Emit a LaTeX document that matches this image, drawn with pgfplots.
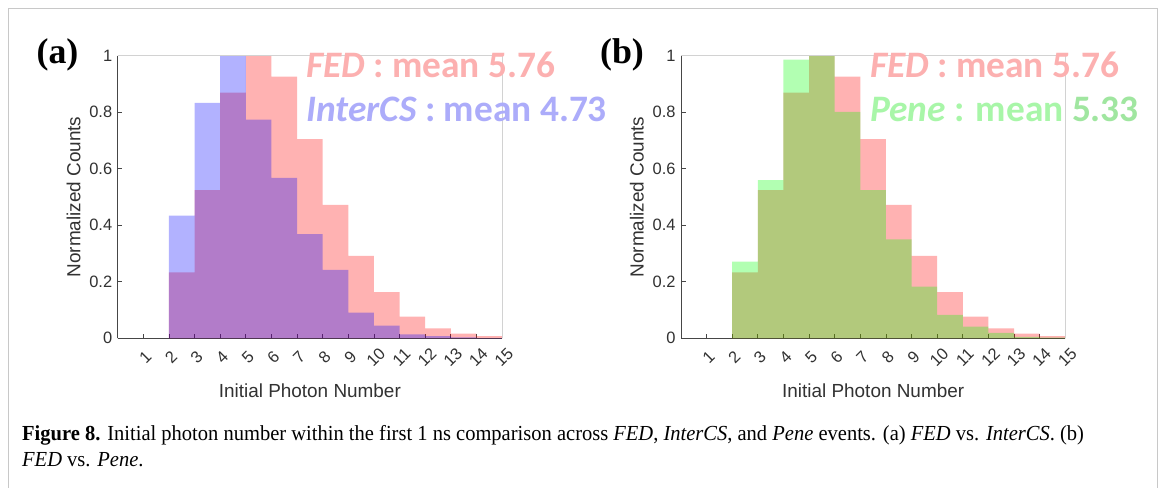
\documentclass[border=0pt]{standalone}
\usepackage{fontspec}
\setmainfont{Liberation Sans}
\newfontfamily\capserif{Liberation Serif}
\newfontfamily\calib{Carlito}
\usepackage{graphicx}
\usepackage{pgfplots}
\usepackage{pgfplotstable}
\pgfplotsset{compat=1.18}

\definecolor{axisdark}{RGB}{70,70,70}
\definecolor{axislight}{RGB}{210,210,210}
\definecolor{textgray}{RGB}{50,50,50}
\definecolor{framegray}{RGB}{200,200,200}
\definecolor{fedtxt}{RGB}{252,176,176}
\definecolor{intertxt}{RGB}{172,172,250}
\definecolor{penetxt}{RGB}{168,246,168}
\definecolor{penetxtdark}{RGB}{160,230,160}

% Normalized histograms: bin left edge, height (last row closes the last bin)
\pgfplotstableread{
x   y
2   0.233
3   0.524
4   0.869
5   1.000
6   0.926
7   0.705
8   0.472
9   0.292
10  0.163
11  0.077
12  0.035
13  0.0165
14  0.008
15  0.008
}\fedtab

\pgfplotstableread{
x   y
2   0.434
3   0.833
4   1.000
5   0.774
6   0.568
7   0.369
8   0.242
9   0.091
10  0.045
11  0.014
12  0.008
13  0.003
14  0.001
15  0.001
}\intertab

\pgfplotstableread{
x   y
2   0.271
3   0.560
4   0.986
5   1.000
6   0.801
7   0.524
8   0.350
9   0.183
10  0.083
11  0.041
12  0.019
13  0.005
14  0.002
15  0.002
}\penetab

\pgfplotsset{
  histax/.style={
    scale only axis,
    width=384.3bp, height=282.6bp,
    xmin=0, xmax=15, ymin=0, ymax=1,
    axis x line*=bottom, axis y line*=left,
    axis line style={draw=axisdark, line width=0.9bp, -},
    every tick/.style={draw=axisdark, line width=0.8bp},
    tick align=inside,
    major tick length=4.5bp,
    xtick={1,...,15},
    ytick={0,0.2,0.4,0.6,0.8,1},
    /pgf/number format/assume math mode=true,
    tick label style={font=\fontsize{16.5}{16.5}\selectfont, text=textgray},
    xticklabel style={yshift=-19bp, xshift=2bp, rotate=45, anchor=center},
    yticklabel style={xshift=-2bp},
    label style={font=\fontsize{19}{19}\selectfont, text=textgray},
    xlabel={Initial Photon Number},
    ylabel={Normalized Counts},
    xlabel style={at={(axis description cs:0.5,-0.184)}, anchor=center},
    ylabel style={at={(axis description cs:-0.115,0.5)}, anchor=center},
    clip=false,
  },
  histfill/.style={const plot, draw=none, fill=#1, fill opacity=0.3},
}

\begin{document}
\begin{tikzpicture}
\useasboundingbox (0,0) rectangle (1166bp,-488bp);
\fill[white] (0,0) rectangle (1166bp,-488bp);
% outer frame
\draw[framegray, line width=1.5bp] (8.5bp,-500bp) -- (8.5bp,-8.5bp) -- (1157.5bp,-8.5bp) -- (1157.5bp,-500bp);

% panel (a)
\begin{axis}[histax, at={(117.7bp,-338.3bp)}, anchor=south west]
  \addplot[histfill=red] table {\fedtab} \closedcycle;
  \addplot[histfill=blue] table {\intertab} \closedcycle;
  \draw[axislight, line width=0.9bp] (rel axis cs:0,1) -- (rel axis cs:1,1) -- (rel axis cs:1,0);
\end{axis}

% panel (b)
\begin{axis}[histax, at={(681bp,-338.3bp)}, anchor=south west]
  \addplot[histfill=red] table {\fedtab} \closedcycle;
  \addplot[histfill=green] table {\penetab} \closedcycle;
  \draw[axislight, line width=0.9bp] (rel axis cs:0,1) -- (rel axis cs:1,1) -- (rel axis cs:1,0);
\end{axis}

% panel tags
\node[font=\capserif\bfseries\fontsize{36}{36}\selectfont, anchor=center] at (57.5bp,-55bp) {(a)};
\node[font=\capserif\bfseries\fontsize{36}{36}\selectfont, anchor=center] at (622bp,-55bp) {(b)};

% mean annotations
\begin{scope}[every node/.style={anchor=base west, inner sep=0pt, font=\calib\bfseries\fontsize{37.5}{37.5}\selectfont}]
  \node[text=fedtxt] at (306bp,-77bp) {\textit{FED} : mean 5.76};
  \node[text=intertxt] at (306bp,-121bp) {\textit{InterCS} : mean 4.73};
  \node[text=fedtxt] at (870bp,-77bp) {\textit{FED} : mean 5.76};
  \node[text=penetxt] at (870bp,-121bp) {\textit{Pene} : mean \textcolor{penetxtdark}{5.33}};
\end{scope}

% caption
\begin{scope}[every node/.style={anchor=base west, inner sep=0pt, font=\capserif\fontsize{21.5}{21.5}\selectfont, text=black}]
  \node at (22bp,-440bp) {\scalebox{0.958}[1]{\textbf{Figure 8.} Initial photon number within the first 1 ns comparison across \textit{FED}, \textit{InterCS}, and \textit{Pene} events. (a) \textit{FED} vs. \textit{InterCS}. (b)}};
  \node at (22bp,-466bp) {\scalebox{0.958}[1]{\textit{FED} vs. \textit{Pene}.}};
\end{scope}
\end{tikzpicture}
\end{document}
